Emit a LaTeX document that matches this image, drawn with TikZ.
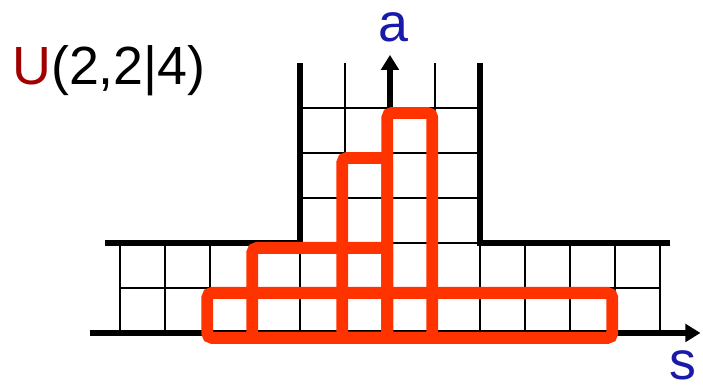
\documentclass[tikz,border=0pt]{standalone}
\usepackage{fontspec}
\setmainfont{Liberation Sans}
\usepackage{xcolor}
\usetikzlibrary{arrows.meta}

\definecolor{boxred}{HTML}{FF3300}
\definecolor{labelred}{HTML}{A00000}
\definecolor{labelblue}{HTML}{1A1AAA}

\begin{document}
\begin{tikzpicture}[
		font=\fontsize{34}{40}\selectfont,
		thin grid/.style={line width=1.2pt, black},
		wall/.style={line width=3.8pt, black},
		axis/.style={line width=3.2pt, -{Triangle[length=9.5pt,width=11pt]}},
		cell/.style={line width=7.5pt, boxred, rounded corners=3pt},
		lbl/.style={inner sep=0pt, anchor=base}
		]
		\useasboundingbox (-8.667,-1.222) rectangle (6.956,7.4);
		% grid of the lower strip and of the middle column
		\draw[thin grid] (-6,0) grid (6,2);
		\foreach \x in {-1,0,1}
			\draw[thin grid] (\x,2) -- (\x,6);
		\foreach \y in {3,4,5}
			\draw[thin grid] (-2,\y) -- (2,\y);
		% walls
		\draw[wall] (-6.33,2) -- (-2,2) -- (-2,6);
		\draw[wall] (2,6) -- (2,2) -- (6.22,2);
		% axes
		\coordinate (o) at (0,0);
		\coordinate (sStart) at (-6.67,0);
		\coordinate (sEnd) at (6.9,0);
		\coordinate (aEnd) at (0,6.18);
		\draw[axis] (sStart) -- (sEnd);
		\draw[axis] (o) -- (aEnd);
		% the boxes
		\begin{scope}[shift={(-0.06,-0.11)}]
			\draw[cell] (-4,0) rectangle (5,1);
			\draw[cell] (-3,0) rectangle (0,2);
			\draw[cell] (-1,0) rectangle (0,4);
			\draw[cell] (0,0) rectangle (1,5);
		\end{scope}
		% labels
		\node[lbl, anchor=base west] (title) at (-8.4,5.53)
		{\textcolor{labelred}{U}(2,2|4)};
		\node[lbl, text=labelblue] (alab) at (0.08,6.47) {a};
		\node[lbl, text=labelblue] (slab) at (6.5,-1.04) {s};
	\end{tikzpicture}
\end{document}
